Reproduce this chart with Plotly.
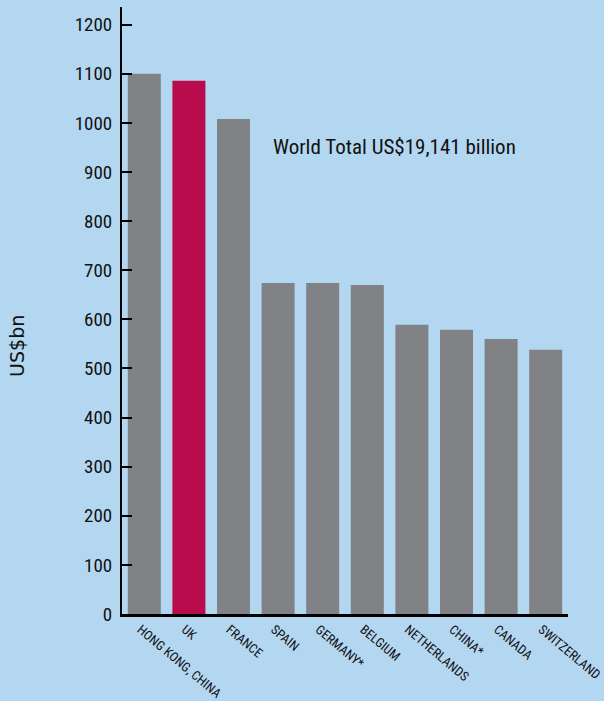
import plotly.graph_objects as go

# Cross-border assets by country, US$ billion
countries = ["HONG KONG, CHINA", "UK", "FRANCE", "SPAIN", "GERMANY*", "BELGIUM",
             "NETHERLANDS", "CHINA*", "CANADA", "SWITZERLAND"]
values = [1100, 1086, 1008, 674, 674, 670, 589, 579, 560, 538]
highlight = "UK"
y_ticks = [0, 100, 200, 300, 400, 500, 600, 700, 800, 900, 1000, 1100, 1200]
total_note = "World Total US$19,141 billion"
y_title = "US$bn"

bg = "#b4d7f1"
grey = "#818285"
crimson = "#b80c4d"
narrow = "Liberation Sans Narrow, Arial Narrow, Roboto Condensed, Liberation Sans, sans-serif"

colors = [crimson if c == highlight else grey for c in countries]

fig = go.Figure(go.Bar(
    x=countries, y=values, marker=dict(color=colors, line=dict(width=0)),
    hoverinfo="x+y",
))

fig.update_layout(
    width=604, height=701,
    paper_bgcolor=bg, plot_bgcolor=bg,
    margin=dict(l=122, r=36, t=7, b=87),
    bargap=0.26,
    showlegend=False,
    font=dict(family=narrow, color="#111111"),
    annotations=[
        dict(text=total_note, xref="paper", yref="y", x=0.333, y=951,
             xanchor="left", yanchor="middle", showarrow=False,
             font=dict(family=narrow, size=21, color="#111111")),
        dict(text=y_title, xref="paper", yref="paper", x=-0.235, y=0.442,
             xanchor="center", yanchor="middle", textangle=-90, showarrow=False,
             font=dict(family="DejaVu Sans, Liberation Sans, sans-serif", size=19,
                       color="#111111")),
    ],
)

fig.update_xaxes(
    showline=True, linecolor="black", linewidth=3,
    ticks="", showgrid=False, zeroline=False, automargin=False,
    tickangle=40, ticklabelshift=-4,
    tickfont=dict(family=narrow, size=13, color="#111111"),
)

fig.update_yaxes(
    range=[0, 1236], tickvals=y_ticks,
    showline=True, linecolor="black", linewidth=2,
    ticks="inside", ticklen=10, tickwidth=2, tickcolor="black",
    ticklabelstandoff=4, automargin=False,
    showgrid=False, zeroline=False,
    tickfont=dict(family=narrow, size=19, color="#111111"),
)

fig.write_html("out.html")
